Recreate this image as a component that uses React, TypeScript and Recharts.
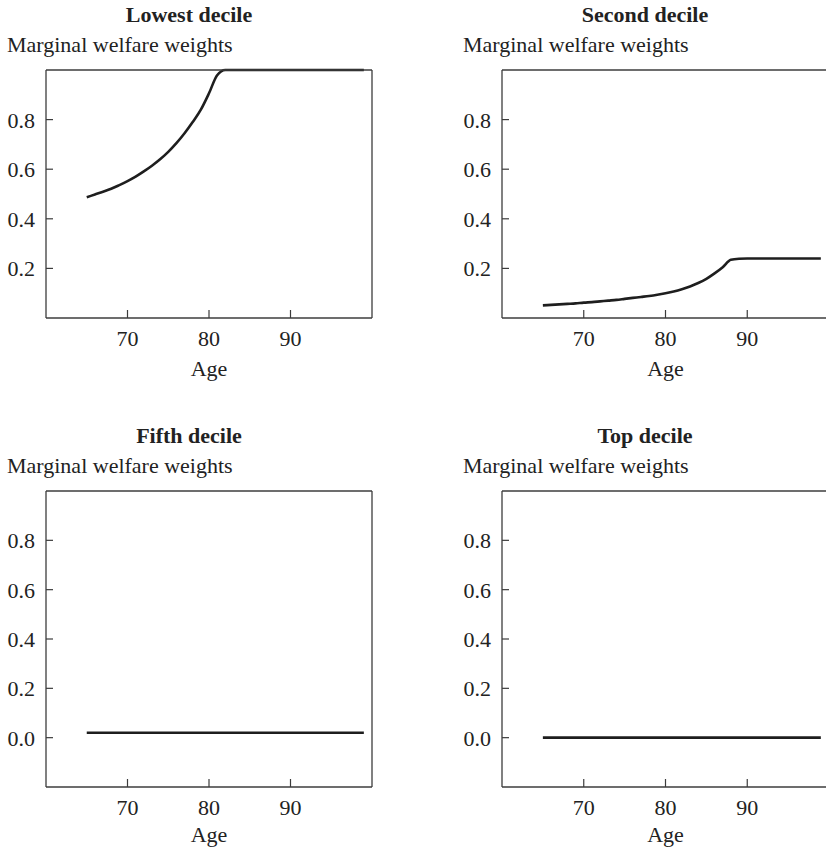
import { LineChart, Line, XAxis, YAxis } from "recharts";

const AGES = [
  65, 66, 67, 68, 69, 70, 71, 72, 73, 74, 75, 76, 77, 78, 79, 80, 81, 82,
  83, 84, 85, 86, 87, 88, 89, 90, 91, 92, 93, 94, 95, 96, 97, 98, 99,
];

const LOWEST = [
  0.487, 0.498, 0.509, 0.521, 0.536, 0.552, 0.57, 0.591, 0.614, 0.64, 0.67,
  0.705, 0.745, 0.79, 0.84, 0.906, 0.979, 1.0, 1.0, 1.0, 1.0, 1.0, 1.0, 1.0,
  1.0, 1.0, 1.0, 1.0, 1.0, 1.0, 1.0, 1.0, 1.0, 1.0, 1.0,
];

const SECOND = [
  0.051, 0.053, 0.055, 0.057, 0.059, 0.062, 0.064, 0.067, 0.07, 0.073, 0.077,
  0.081, 0.085, 0.089, 0.094, 0.1, 0.107, 0.116, 0.127, 0.141, 0.158, 0.18,
  0.205, 0.235, 0.239, 0.24, 0.24, 0.24, 0.24, 0.24, 0.24, 0.24, 0.24, 0.24,
  0.24,
];

const FIFTH = [
  0.02, 0.02, 0.02, 0.02, 0.02, 0.02, 0.02, 0.02, 0.02, 0.02, 0.02, 0.02,
  0.02, 0.02, 0.02, 0.02, 0.02, 0.02, 0.02, 0.02, 0.02, 0.02, 0.02, 0.02,
  0.02, 0.02, 0.02, 0.02, 0.02, 0.02, 0.02, 0.02, 0.02, 0.02, 0.02,
];

const TOP = [
  0, 0, 0, 0, 0, 0, 0, 0, 0, 0, 0, 0, 0, 0, 0, 0, 0, 0, 0, 0, 0, 0, 0, 0, 0,
  0, 0, 0, 0, 0, 0, 0, 0, 0, 0,
];

const X_TICKS = [70, 80, 90];
const Y_TICKS_UPPER = [0.2, 0.4, 0.6, 0.8];
const Y_TICKS_LOWER = [0, 0.2, 0.4, 0.6, 0.8];

const FONT = "'Liberation Serif', 'Times New Roman', serif";
const FS = 22;
const AXIS = "#3c3c3c";
const INK = "#1e1e1e";

const PANELS = [
  { title: "Lowest decile", values: LOWEST, domain: [0, 1], ticks: Y_TICKS_UPPER, left: 0, top: 0, width: 380, height: 400, right: 7, xH: 82, ageOff: 24 },
  { title: "Second decile", values: SECOND, domain: [0, 1], ticks: Y_TICKS_UPPER, left: 456, top: 0, width: 374, height: 400, right: 0, xH: 82, ageOff: 24 },
  { title: "Fifth decile", values: FIFTH, domain: [-0.2, 1], ticks: Y_TICKS_LOWER, left: 0, top: 421, width: 380, height: 428, right: 7, xH: 62, ageOff: 7 },
  { title: "Top decile", values: TOP, domain: [-0.2, 1], ticks: Y_TICKS_LOWER, left: 456, top: 421, width: 374, height: 428, right: 0, xH: 62, ageOff: 7 },
];

function YTick(props: any) {
  const { x, y, payload } = props;
  return (
    <g>
      <line x1={x + 11} x2={x + 18} y1={y} y2={y} stroke={AXIS} strokeWidth={1.2} />
      <text x={x} y={y} dy="0.36em" textAnchor="end" fontSize={FS} fontFamily={FONT} fill="#222">
        {Number(payload.value).toFixed(1)}
      </text>
    </g>
  );
}

function XTick(props: any) {
  const { x, y, payload } = props;
  return (
    <g>
      <line x1={x} x2={x} y1={y - 13} y2={y - 21} stroke={AXIS} strokeWidth={1.2} />
      <text x={x} y={y} dy="0.68em" textAnchor="middle" fontSize={FS} fontFamily={FONT} fill="#222">
        {payload.value}
      </text>
    </g>
  );
}

function Panel({ p }: { p: (typeof PANELS)[number] }) {
  const data = AGES.map((age, i) => ({ age, w: p.values[i] }));
  return (
    <div style={{ position: "absolute", left: p.left, top: p.top }}>
      <LineChart
        width={p.width}
        height={p.height}
        data={data}
        margin={{ top: 69, right: p.right, bottom: 0, left: 0 }}
      >
        <XAxis
          dataKey="age"
          type="number"
          domain={[60, 100]}
          ticks={X_TICKS}
          height={p.xH}
          tickSize={0}
          tickMargin={13}
          tick={<XTick />}
          axisLine={{ stroke: AXIS, strokeWidth: 1.3 }}
          tickLine={false}
          label={{ value: "Age", position: "insideBottom", offset: p.ageOff, fontSize: FS, fontFamily: FONT, fill: "#222" }}
        />
        <XAxis
          xAxisId="frame"
          orientation="top"
          type="number"
          domain={[60, 100]}
          height={1}
          tick={false}
          tickLine={false}
          axisLine={{ stroke: AXIS, strokeWidth: 1.3 }}
        />
        <YAxis
          type="number"
          domain={p.domain}
          ticks={p.ticks}
          width={46}
          tickSize={0}
          tickMargin={11}
          tick={<YTick />}
          tickLine={false}
          axisLine={{ stroke: AXIS, strokeWidth: 1.3 }}
        />
        <YAxis
          yAxisId="frame"
          orientation="right"
          type="number"
          domain={p.domain}
          width={1}
          tick={false}
          tickLine={false}
          axisLine={{ stroke: AXIS, strokeWidth: 1.3 }}
        />
        <Line
          dataKey="w"
          type="monotone"
          stroke={INK}
          strokeWidth={2.6}
          dot={false}
          activeDot={false}
          isAnimationActive={false}
        />
      </LineChart>
    </div>
  );
}

export default function App() {
  return (
    <div
      style={{
        position: "fixed",
        left: 0,
        top: 0,
        width: 826,
        height: 849,
        overflow: "hidden",
        background: "#fff",
      }}
    >
      <svg width={826} height={849} style={{ position: "absolute", left: 0, top: 0 }}>
        {PANELS.map((p) => {
          const sx = p.left + 7;
          return (
            <g key={p.title} fontFamily={FONT} fill="#222" fontSize={FS}>
              <text x={sx + 182} y={p.top + 21.5} textAnchor="middle" fontWeight="bold">
                {p.title}
              </text>
              <text x={sx} y={p.top + 52}>
                Marginal welfare weights
              </text>
            </g>
          );
        })}
      </svg>
      {PANELS.map((p) => (
        <Panel key={p.title} p={p} />
      ))}
    </div>
  );
}
